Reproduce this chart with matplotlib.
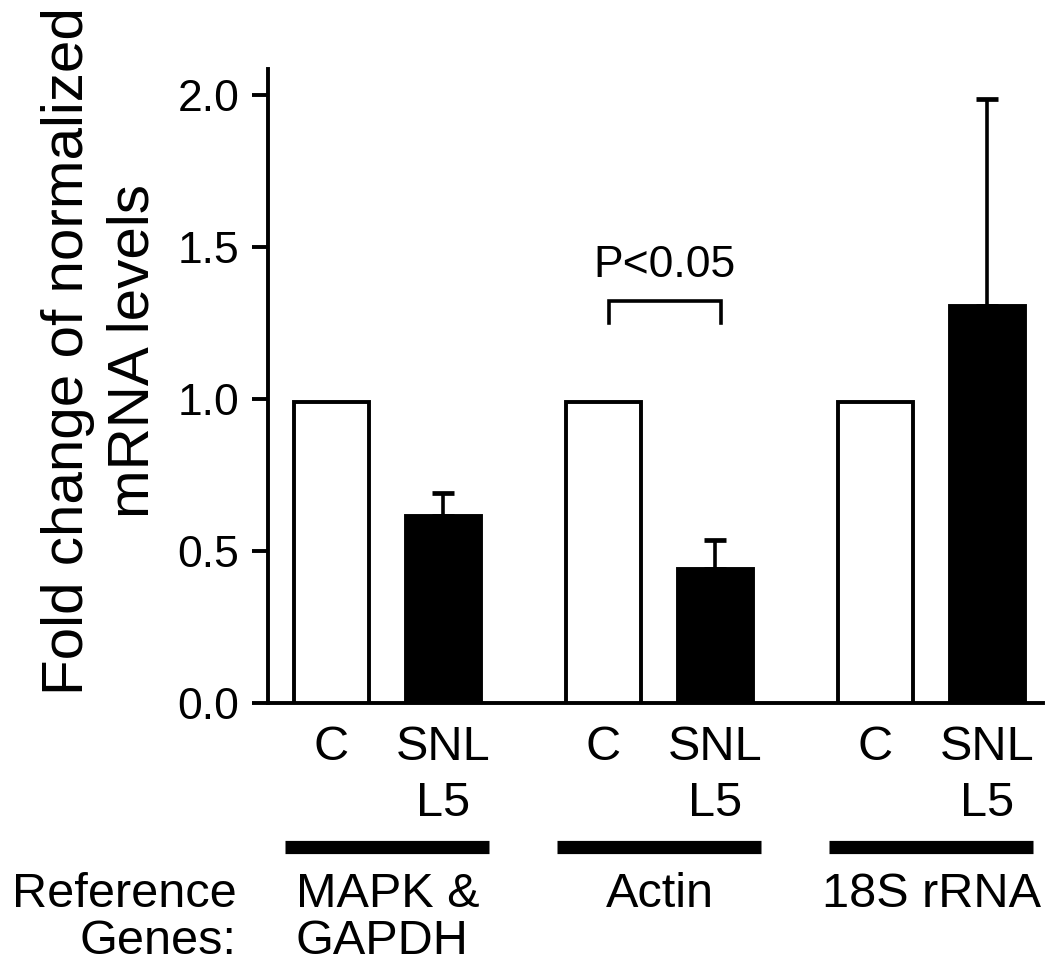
import numpy as np
import matplotlib
matplotlib.use('Agg')
import matplotlib.pyplot as plt

plt.rcParams['font.family'] = ['Liberation Sans', 'DejaVu Sans']

# data
groups = ['MAPK &\nGAPDH', 'Actin', '18S rRNA']
control_vals = [0.99, 0.99, 0.99]
snl_vals = [0.615, 0.441, 1.306]
snl_err = [0.076, 0.095, 0.681]
tick_names = ['C', 'SNL\nL5']
y_ticks = [0.0, 0.5, 1.0, 1.5, 2.0]

bar_w = 0.276
offset = 0.412

fig = plt.figure(figsize=(10.5, 9.63), dpi=100)
ax = fig.add_axes([0.2552, 0.2700, 0.7381, 0.6583])

g = np.arange(len(groups))
x_c = g
x_s = g + offset

ax.bar(x_c, control_vals, width=bar_w, color='white', edgecolor='black', linewidth=2.8, zorder=3)
ax.bar(x_s, snl_vals, width=bar_w, color='black', edgecolor='black', linewidth=2.8, zorder=3)
ax.errorbar(x_s, snl_vals, yerr=[np.zeros(len(snl_err)), snl_err], fmt='none',
            ecolor='black', elinewidth=2.6, capsize=8, capthick=3.4, zorder=2)

ax.set_xlim(-0.233, 2.616)
ax.set_ylim(0, 2.086)
ax.set_yticks(y_ticks)
ax.set_yticklabels([f'{v:.1f}' for v in y_ticks], fontsize=32)

xt = np.column_stack([x_c, x_s]).ravel()
ax.set_xticks(xt)
ax.set_xticklabels(tick_names * len(groups), fontsize=35)
for lbl in ax.get_xticklabels():
    lbl.set_linespacing(1.3)

for s in ['top', 'right']:
    ax.spines[s].set_visible(False)
for s in ['left', 'bottom']:
    ax.spines[s].set_linewidth(2.8)
ax.tick_params(axis='y', length=11.5, width=2.8, pad=9)
ax.tick_params(axis='x', length=0, pad=16)

# significance bracket
bx0, bx1 = x_c[1] + 0.02, x_s[1] + 0.02
ax.plot([bx0, bx0, bx1, bx1], [1.25, 1.322, 1.322, 1.25], color='black', lw=2.6,
        solid_joinstyle='miter')
ax.text((bx0 + bx1) / 2, 1.44, 'P<0.05', ha='center', va='center', fontsize=32)

# group bars and labels below the axis
trans = ax.get_xaxis_transform()
centers = (x_c + x_s) / 2
for c, name in zip(centers, groups):
    ax.plot([c - 0.375, c + 0.375], [-0.227, -0.227], color='black', lw=9.5,
            solid_capstyle='butt', transform=trans, clip_on=False)
    ax.text(c, -0.266, name, ha='center', va='top', multialignment='left',
            fontsize=35, linespacing=1.08, transform=trans)
ax.text(-0.347, -0.266, 'Reference\nGenes:', ha='right', va='top', multialignment='right',
        fontsize=35, linespacing=1.08, transform=trans)

fig.text(0.096, 0.635, 'Fold change of normalized\nmRNA levels', rotation=90,
         ha='center', va='center', fontsize=42, linespacing=1.26)

fig.savefig('out.png', dpi=100)
